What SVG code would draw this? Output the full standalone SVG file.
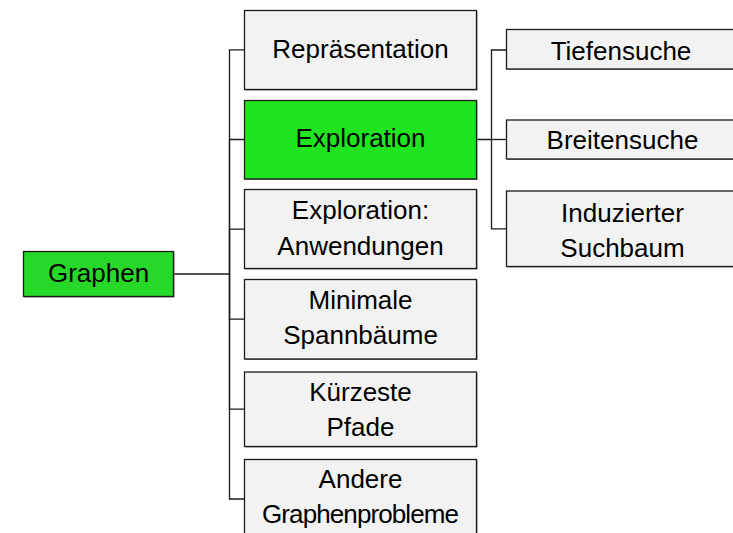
<svg xmlns="http://www.w3.org/2000/svg" width="733" height="533" viewBox="0 0 733 533">
<style>
.box{fill:#f2f2f2;stroke:#1a1a1a;stroke-width:1.3}
.green1{fill:#1fe41f;stroke:#1a1a1a;stroke-width:1.3}
.green2{fill:#28d828;stroke:#1a1a1a;stroke-width:1.3}
.sh{fill:#8a8a8a}
.lbl{font-family:"Liberation Sans",Arial,sans-serif;font-size:26px;fill:#000;text-anchor:middle}
.con{fill:none;stroke:#1a1a1a;stroke-width:1.3}
</style>
<rect width="733" height="533" fill="#fff"/>
<g id="connectors">
<path class="con" d="M173.5 274H229.5V49.8H244.5"/>
<path class="con" d="M229.5 274V139.5H244.5"/>
<path class="con" d="M229.5 274V229.2H244.5"/>
<path class="con" d="M229.5 274V319.2H244.5"/>
<path class="con" d="M229.5 274V409.2H244.5"/>
<path class="con" d="M229.5 274V499H244.5"/>
<path class="con" d="M476.5 139.5H491.5V50H506.5"/>
<path class="con" d="M491.5 139.5H506.5"/>
<path class="con" d="M491.5 139.5V228.8H506.5"/>
</g>
<g id="graphen">
<rect class="sh" x="24.5" y="252.5" width="150" height="45"/>
<rect class="green2" x="23.5" y="251.5" width="150" height="45"/>
<text class="lbl" x="98.5" y="282">Graphen</text>
</g>
<g id="repraesentation">
<rect class="sh" x="245.5" y="11.5" width="232" height="79"/>
<rect class="box" x="244.5" y="10.5" width="232" height="79"/>
<text class="lbl" x="360.5" y="57.5">Repräsentation</text>
</g>
<g id="exploration">
<rect class="sh" x="245.5" y="101.5" width="232" height="78.5"/>
<rect class="green1" x="244.5" y="100.5" width="232" height="78.5"/>
<text class="lbl" x="360.5" y="147">Exploration</text>
</g>
<g id="anwendungen">
<rect class="sh" x="245.5" y="190.5" width="232" height="79"/>
<rect class="box" x="244.5" y="189.5" width="232" height="79"/>
<text class="lbl" x="360.5" y="218.5">Exploration:</text>
<text class="lbl" x="360.5" y="255">Anwendungen</text>
</g>
<g id="spannbaeume">
<rect class="sh" x="245.5" y="280.5" width="232" height="79.5"/>
<rect class="box" x="244.5" y="279.5" width="232" height="79.5"/>
<text class="lbl" x="360.5" y="308.5">Minimale</text>
<text class="lbl" x="360.5" y="343.5">Spannbäume</text>
</g>
<g id="pfade">
<rect class="sh" x="245.5" y="373" width="232" height="74.5"/>
<rect class="box" x="244.5" y="372" width="232" height="74.5"/>
<text class="lbl" x="360.5" y="400.7">Kürzeste</text>
<text class="lbl" x="360.5" y="436">Pfade</text>
</g>
<g id="andere">
<rect class="sh" x="245.5" y="460.5" width="232" height="79"/>
<rect class="box" x="244.5" y="459.5" width="232" height="79"/>
<text class="lbl" x="360.5" y="487.7">Andere</text>
<text class="lbl" x="360.5" y="523.3" textLength="197">Graphenprobleme</text>
</g>
<g id="tiefensuche">
<rect class="sh" x="507.5" y="30.5" width="232" height="39.5"/>
<rect class="box" x="506.5" y="29.5" width="232" height="39.5"/>
<text class="lbl" x="621" y="60">Tiefensuche</text>
</g>
<g id="breitensuche">
<rect class="sh" x="507.5" y="121" width="232" height="39"/>
<rect class="box" x="506.5" y="120" width="232" height="39"/>
<text class="lbl" x="622.5" y="149">Breitensuche</text>
</g>
<g id="suchbaum">
<rect class="sh" x="507.5" y="192" width="232" height="75.5"/>
<rect class="box" x="506.5" y="191" width="232" height="75.5"/>
<text class="lbl" x="622.5" y="221.7">Induzierter</text>
<text class="lbl" x="622.5" y="256.7">Suchbaum</text>
</g>
</svg>
